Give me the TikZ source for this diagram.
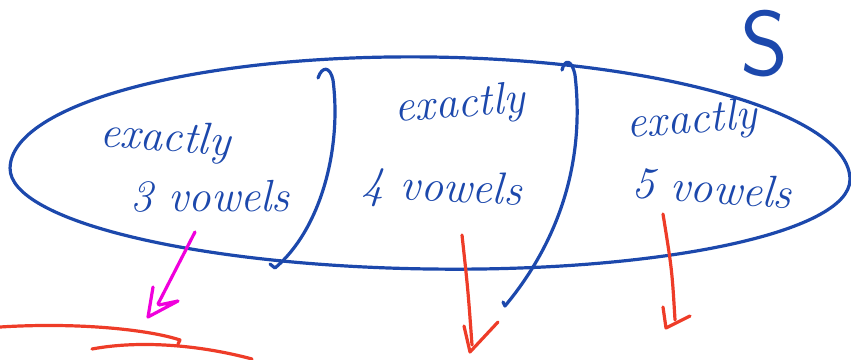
\documentclass[tikz,border=0pt]{standalone}
\usepackage{fontspec}
\begin{document}
\begin{tikzpicture}[x=1pt,y=-1pt,
  ink/.style={line width=3.2pt,line cap=round,line join=round},
  blueink/.style={ink,draw={rgb,255:red,28;green,72;blue,172}},
  redink/.style={ink,draw={rgb,255:red,238;green,60;blue,40}},
  pinkink/.style={ink,draw={rgb,255:red,240;green,0;blue,220}},
  hand/.style={text={rgb,255:red,28;green,72;blue,172},font=\fontsize{45}{47}\selectfont\itshape,inner sep=0pt}]
\useasboundingbox (0,0) rectangle (851,359);

% the set S: an egg-shaped outline, flatter below than above
\begin{scope}[rotate around={-0.8:(430,174)}]
  \draw[blueink] (10,174) arc[start angle=180,end angle=360,x radius=420,y radius=117]
                 arc[start angle=0,end angle=180,x radius=420,y radius=95] -- cycle;
\end{scope}
\node[hand,font=\fontsize{92}{92}\selectfont\sffamily] (S) at (765,44) {S};

% dividers between the parts
\draw[blueink] (318,78) .. controls (322,66) and (330,66) .. (333,80)
  .. controls (342,150) and (320,230) .. (275,268) -- (270,264);
\draw[blueink] (562,70) .. controls (565,58) and (572,60) .. (575,75)
  .. controls (585,160) and (560,240) .. (505,306) -- (503,302);

% labels
\node[hand,rotate=-4] (e1) at (165,140) {exactly};
\node[hand] (v1) at (210,196) {3 vowels};
\node[hand,rotate=4] (e2) at (460,106) {exactly};
\node[hand,rotate=-3] (v2) at (442,190) {4 vowels};
\node[hand,rotate=4] (e3) at (692,122) {exactly};
\node[hand,rotate=-4] (v3) at (712,188) {5 vowels};

% arrows out of the parts
\coordinate (p0) at (195,232);
\coordinate (p1) at (158,304);
\draw[pinkink] (p0) -- (p1);
\draw[pinkink] (153,287) -- (148,317) -- (178,301) -- (159,305);

\coordinate (r0) at (462,235);
\coordinate (r1) at (472,345);
\draw[redink] (r0) .. controls (468,290) .. (r1);
\draw[redink] (464,326) -- (470,352) -- (498,322);

\coordinate (q0) at (663,214);
\coordinate (q1) at (675,320);
\draw[redink] (q0) .. controls (672,270) .. (q1);
\draw[redink] (663,307) -- (666,328) -- (690,316);

% arcs below
\draw[redink] (0,327) .. controls (80,322) and (150,330) .. (180,340) -- (178,344);
\draw[redink] (92,349) .. controls (140,340) and (200,345) .. (252,359);
\end{tikzpicture}
\end{document}
